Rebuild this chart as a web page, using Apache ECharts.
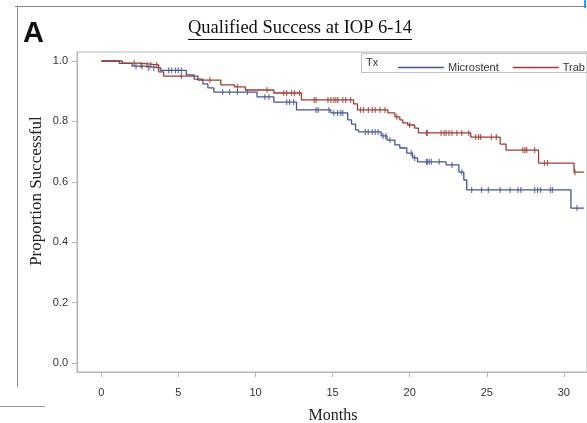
<!DOCTYPE html>
<html>
<head>
<meta charset="utf-8">
<script src="https://cdn.jsdelivr.net/npm/echarts@6/dist/echarts.min.js"></script>
<style>html,body{margin:0;padding:0;background:#fff;}#c{width:587px;height:423px;}</style>
</head>
<body>
<div id="c"></div>
<script>
// ---- data ----
const seriesNames = ['Microstent', 'Trab'];
const xTicks = [0, 5, 10, 15, 20, 25, 30];
const yTicks = [0, 0.2, 0.4, 0.6, 0.8, 1.0];

const microTimes = [0, 1.17, 2.0, 2.76, 3.85, 5.51, 6.02, 6.59, 6.91, 7.30, 10.10, 11.19, 12.66, 14.89, 15.98, 16.23, 16.49, 16.68, 18.15, 18.53, 19.04, 19.36, 19.81, 20.19, 20.51, 22.36, 23.19, 23.51, 23.70, 30.46, 31.3];
const microSurv  = [1.0, 0.992, 0.983, 0.977, 0.969, 0.954, 0.940, 0.924, 0.911, 0.897, 0.881, 0.864, 0.838, 0.828, 0.805, 0.791, 0.772, 0.765, 0.752, 0.738, 0.722, 0.712, 0.695, 0.679, 0.666, 0.656, 0.632, 0.606, 0.573, 0.513, 0.513];

const trabTimes = [0, 1.36, 2.44, 3.72, 4.04, 6.27, 7.75, 8.63, 9.34, 11.19, 12.98, 16.36, 16.61, 18.59, 19.04, 19.36, 19.55, 19.87, 20.32, 20.57, 23.96, 25.87, 26.25, 28.36, 30.66, 31.3];
const trabSurv  = [1.0, 0.993, 0.987, 0.964, 0.950, 0.937, 0.921, 0.914, 0.904, 0.894, 0.871, 0.858, 0.838, 0.828, 0.815, 0.805, 0.795, 0.788, 0.778, 0.762, 0.748, 0.725, 0.705, 0.662, 0.632, 0.632];

const microCensor = [2.25, 2.64, 3.08, 3.40, 4.36, 4.55, 4.81, 4.99, 5.19, 7.87, 8.32, 8.83, 9.47, 10.61, 10.87, 12.02, 12.21, 12.47, 13.93, 14.06, 14.76, 15.08, 15.33, 15.53, 15.66, 17.12, 17.31, 17.57, 17.76, 17.95, 18.27, 18.45, 18.72, 20.10, 20.32, 21.08, 21.15, 21.27, 21.40, 21.91, 22.74, 23.38, 24.02, 24.66, 25.10, 25.87, 26.51, 27.02, 27.21, 28.10, 28.30, 28.49, 29.13, 29.26, 30.85];
const trabCensor = [2.13, 2.57, 2.96, 3.21, 3.59, 5.19, 7.04, 8.83, 10.75, 11.83, 12.02, 12.34, 12.53, 12.85, 13.81, 13.93, 14.70, 14.89, 15.08, 15.21, 15.34, 15.66, 15.85, 16.17, 16.81, 17.00, 17.32, 17.57, 17.76, 18.08, 18.40, 19.17, 20.00, 21.08, 21.15, 22.04, 22.23, 22.36, 22.55, 22.74, 23.06, 23.38, 23.83, 24.28, 24.47, 24.60, 25.30, 25.62, 27.34, 27.47, 27.59, 28.10, 28.74, 28.93, 30.72];

// ---- build ----
function pairs(t, s) { return t.map((v, i) => [v, s[i]]); }
function censorPts(times, stepT, stepS) {
  return times.map(t => {
    let v = stepS[0];
    for (let i = 0; i < stepT.length; i++) { if (stepT[i] <= t) v = stepS[i]; }
    return [t, v];
  });
}
const colBlue = '#445694', colRed = '#A23A2E';
const frameCol = '#b4b4b4';
const sans = '"Liberation Sans", Arial, sans-serif';
const serif = '"Liberation Serif", "Times New Roman", serif';

const chart = echarts.init(document.getElementById('c'), null, {renderer: 'canvas'});
chart.setOption({
  animation: false,
  backgroundColor: '#fff',
  grid: {left: 77, top: 52, bottom: 51, right: -8.2, show: true, borderColor: frameCol, borderWidth: 1, containLabel: false},
  xAxis: {
    type: 'value', min: -1.577, max: 31.5,
    axisLine: {show: true, onZero: false, lineStyle: {color: frameCol}},
    axisTick: {show: true, length: 5, customValues: xTicks, lineStyle: {color: frameCol}},
    axisLabel: {customValues: xTicks, margin: 15, color: '#333', fontSize: 11, fontFamily: sans},
    splitLine: {show: false}
  },
  yAxis: {
    type: 'value', min: -0.0298, max: 1.0298,
    axisLine: {show: true, onZero: false, lineStyle: {color: frameCol}},
    axisTick: {show: true, length: 5, customValues: yTicks, lineStyle: {color: frameCol}},
    axisLabel: {customValues: yTicks, margin: 9, color: '#333', fontSize: 11, fontFamily: sans, formatter: v => v.toFixed(1)},
    splitLine: {show: false}
  },
  legend: {
    data: seriesNames, left: 393, top: 57, width: 300, orient: 'horizontal', itemWidth: 46, itemHeight: 1.5, itemGap: 14, icon: 'rect',
    textStyle: {color: '#333', fontSize: 11, fontFamily: sans, padding: [0, 0, 0, -1]}
  },
  graphic: [
    {type: 'line', shape: {x1: 15, y1: 6.5, x2: 587, y2: 6.5}, style: {stroke: '#888', lineWidth: 1}},
    {type: 'line', shape: {x1: 17.5, y1: 6, x2: 17.5, y2: 387}, style: {stroke: '#888', lineWidth: 1}},
    {type: 'line', shape: {x1: 0, y1: 406.5, x2: 45, y2: 406.5}, style: {stroke: '#999', lineWidth: 1}},
    {type: 'line', shape: {x1: 585, y1: 0, x2: 585, y2: 8}, style: {stroke: '#2a9df4', lineWidth: 2}},
    {type: 'text', left: 23, top: 19, style: {text: 'A', font: 'bold 29px ' + sans, fill: '#111'}},
    {type: 'text', x: 300, y: 28, style: {text: 'Qualified Success at IOP 6-14', font: '18.5px ' + serif, fill: '#111', textAlign: 'center', textVerticalAlign: 'middle'}},
    {type: 'line', shape: {x1: 188, y1: 39.5, x2: 412, y2: 39.5}, style: {stroke: '#111', lineWidth: 1}},
    {type: 'rect', shape: {x: 361.5, y: 53.5, width: 240, height: 19}, style: {fill: 'none', stroke: '#c0c0c0', lineWidth: 1}},
    {type: 'text', x: 366, y: 63, style: {text: 'Tx', font: '11px ' + sans, fill: '#333', textVerticalAlign: 'middle'}},
    {type: 'text', x: 37, y: 191, rotation: Math.PI / 2, style: {text: 'Proportion Successful', font: '17px ' + serif, fill: '#222', textAlign: 'center', textVerticalAlign: 'middle'}},
    {type: 'text', x: 333, y: 416, style: {text: 'Months', font: '16px ' + serif, fill: '#222', textAlign: 'center', textVerticalAlign: 'middle'}}
  ],
  series: [
    {name: seriesNames[0], type: 'line', step: 'end', data: pairs(microTimes, microSurv), showSymbol: false, symbol: 'none', lineStyle: {color: colBlue, width: 1.3}, itemStyle: {color: colBlue}, z: 3},
    {name: seriesNames[1], type: 'line', step: 'end', data: pairs(trabTimes, trabSurv), showSymbol: false, symbol: 'none', lineStyle: {color: colRed, width: 1.3}, itemStyle: {color: colRed}, z: 4},
    {name: seriesNames[0] + ' censored', type: 'scatter', data: censorPts(microCensor, microTimes, microSurv), symbol: 'rect', symbolSize: [1.2, 6], itemStyle: {color: colBlue}, z: 3},
    {name: seriesNames[1] + ' censored', type: 'scatter', data: censorPts(trabCensor, trabTimes, trabSurv), symbol: 'rect', symbolSize: [1.2, 6], itemStyle: {color: colRed}, z: 4}
  ]
});
</script>
</body>
</html>
